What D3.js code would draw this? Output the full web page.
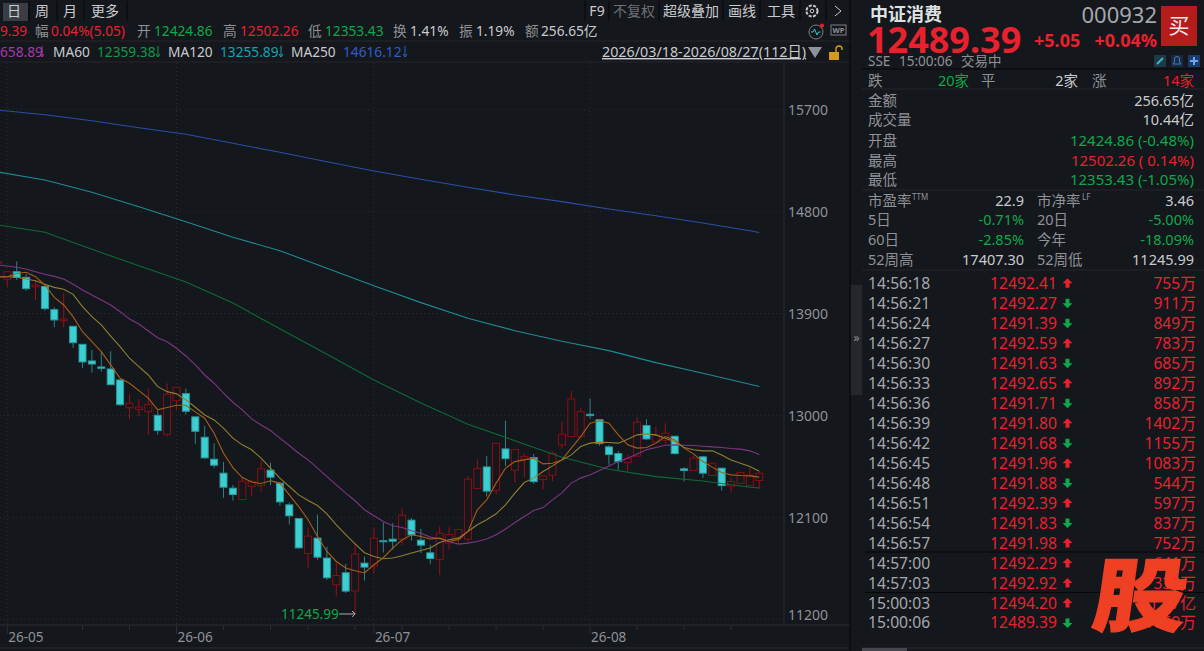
<!DOCTYPE html>
<html>
<head>
<meta charset="utf-8">
<script src="https://cdn.jsdelivr.net/npm/d3@7"></script>
<style>
html,body{margin:0;padding:0;background:#14171c;overflow:hidden}
svg{display:block}
text{font-family:"Noto Sans","Noto Sans CJK SC",sans-serif}
</style>
</head>
<body>
<script>
// trading days shown, first one is only half in view
var dates = ["04-30",
  "05-06","05-07","05-08","05-11","05-12","05-13","05-14","05-15","05-18","05-19","05-20","05-21","05-22","05-25","05-26","05-27","05-28","05-29",
  "06-01","06-02","06-03","06-04","06-05","06-08","06-09","06-10","06-11","06-12","06-15","06-16","06-17","06-18","06-22","06-23","06-24","06-25","06-26","06-29","06-30",
  "07-01","07-02","07-03","07-06","07-07","07-08","07-09","07-10","07-13","07-14","07-15","07-16","07-17","07-20","07-21","07-22","07-23","07-24","07-27","07-28","07-29","07-30","07-31",
  "08-03","08-04","08-05","08-06","08-07","08-10","08-11","08-12","08-13","08-14","08-17","08-18","08-19","08-20","08-21","08-24","08-25","08-26","08-27"];

var opens = [14345,14202,14269,14219,14136,14140,13934,13836,13787,13628,13481,
  13428,13410,13313,13068,13051,13033,13001,12830,13130,13192,
  12987,12807,12613,12490,12357,12257,12375,12380,12516,12401,
  12210,12089,11780,11916,11740,11504,11610,11448,11695,11669,
  11893,11907,11907,12075,11898,11786,11727,11872,11916,11907,
  12354,12545,12336,12704,12516,12613,12627,12433,12472,12740,
  12812,12812,13010,12962,12722,12663,12583,12640,12910,12766,
  12781,12816,12528,12513,12634,12469,12534,12375,12398,12380,12424.86];
var highs = [14380,14269,14360,14248,14196,14140,13955,14079,13787,13628,13578,
  13563,13566,13313,13187,13145,13240,13042,13284,13248,13236,
  12987,12907,12754,12589,12384,12454,12431,12601,12583,12413,
  12230,12089,12007,12124,11842,11701,11689,11866,11754,12007,
  12054,12048,12177,12093,11998,11857,12018,12013,11992,12460,
  12613,12642,12754,12954,12698,12660,12660,12466,12680,12942,
  13218,13063,13151,12962,12737,12684,12654,12984,12966,12901,
  12931,12816,12542,12648,12642,12578,12534,12454,12495,12536,12502.26];
var lows = [14300,14136,14196,14101,14019,13925,13778,13778,13595,13419,13377,
  13386,13266,13083,12966,12995,12830,12830,12812,13049,13007,
  12748,12619,12536,12272,12248,12257,12289,12325,12384,12201,
  12036,11824,11654,11725,11548,11401,11431,11245.99,11542,11601,
  11789,11813,11854,11895,11784,11689,11589,11819,11866,11883,
  12354,12283,12301,12554,12407,12454,12395,12349,12419,12710,
  12812,12812,12971,12733,12563,12519,12495,12640,12783,12766,
  12748,12654,12416,12513,12448,12469,12336,12318,12398,12380,12353.43];
var closes = [14355,14269,14219,14119,14151,13943,13843,13851,13642,13472,13454,
  13416,13271,13095,13107,13074,13098,12866,13187,13248,13037,
  12860,12625,12560,12366,12301,12419,12413,12528,12454,12236,
  12113,11830,11934,11748,11566,11586,11448,11775,11660,11916,
  11884,11889,12119,11945,11854,11736,11960,11948,11992,12437,
  12530,12331,12754,12618,12698,12636,12415,12466,12666,12834,
  13145,13033,12998,12751,12654,12592,12622,12940,12792,12822,
  12843,12663,12513,12622,12490,12578,12380,12416,12495,12472,12489.39];

var ma5 = [14222,14225,14253,14264,14225,14152,14043,13975,13872,13739,13651,
  13563,13446,13328,13284,13219,13152,13049,13069,13090,13090,
  13031,12975,12843,12666,12539,12451,12411,12398,12422,12402,
  12298,12195,12078,11931,11798,11710,11652,11628,11608,11681,
  11743,11828,11901,11946,11931,11908,11916,11886,11901,11975,
  12166,12254,12402,12534,12592,12607,12622,12572,12578,12607,
  12711,12813,12931,12952,12931,12828,12740,12711,12716,12755,
  12813,12784,12711,12660,12592,12543,12495,12475,12469,12466,12455];
var ma10 = [14225,14225,14220,14205,14190,14158,14131,14114,14069,13960,13872,
  13799,13701,13607,13505,13431,13357,13254,13210,13190,13137,
  13072,13004,12960,12887,12799,12740,12696,12622,12534,12446,
  12372,12298,12248,12204,12131,12034,11946,11866,11787,11754,
  11734,11740,11760,11784,11807,11828,11878,11901,11916,11975,
  12034,12078,12131,12210,12314,12407,12446,12504,12554,12607,
  12651,12725,12755,12764,12760,12755,12790,12828,12837,12828,
  12799,12769,12716,12696,12687,12687,12651,12607,12578,12548,12507];
var ma20 = [14328,14319,14308,14293,14269,14246,14228,14205,14158,14107,14063,
  14019,13975,13916,13852,13807,13746,13686,13651,13593,13525,
  13446,13357,13284,13196,13116,13049,12969,12916,12866,12799,
  12734,12666,12607,12534,12460,12387,12314,12246,12166,12113,
  12063,12025,12010,11981,11960,11925,11910,11886,11863,11872,
  11886,11908,11946,11996,12054,12107,12160,12186,12254,12316,
  12402,12446,12475,12513,12554,12592,12622,12660,12696,12716,
  12737,12740,12737,12734,12728,12722,12716,12707,12702,12687,12654];

var slowDates = ["04-30","05-12","05-19","05-26","06-02","06-09","06-16","06-24","07-01","07-08","07-15","07-22","07-29","08-05","08-12","08-19","08-26","08-27"];
var ma60 = [14682,14617,14467,14322,14178,13993,13766,13540,13313,13110,12922,12777,12630,12524,12459,12421,12365,12359.38];
var ma120 = [15150,15079,14971,14843,14711,14573,14455,14299,14146,13996,13858,13748,13655,13572,13466,13372,13275,13255.89];
var ma250 = [15697,15656,15603,15541,15483,15403,15324,15241,15159,15085,15015,14947,14888,14823,14764,14699,14631,14616.12];

var priceTicks = [15700,14800,13900,13000,12100,11200];
var monthTicks = ["05-06","06-01","07-01","08-03"];
var monthLabels = ["26-05","26-06","26-07","26-08"];
var weekTicks = ["05-18","05-25","06-08","06-15","06-22","06-29","07-06","07-13","07-20","07-27","08-10","08-17","08-24"];

var periodTabs = ["日","周","月","更多"];
var toolTabs = ["F9","不复权","超级叠加","画线","工具"];

var statLabels = ["金额","成交量","开盘","最高","最低"];
var statValues = ["256.65亿","10.44亿","12424.86 (-0.48%)","12502.26 ( 0.14%)","12353.43 (-1.05%)"];
var valLabels = ["市盈率","5日","60日","52周高"];
var valValues = ["22.9","-0.71%","-2.85%","17407.30"];
var valLabels2 = ["市净率","20日","今年","52周低"];
var valValues2 = ["3.46","-5.00%","-18.09%","11245.99"];

var tickTimes = ["14:56:18","14:56:21","14:56:24","14:56:27","14:56:30","14:56:33","14:56:36","14:56:39","14:56:42","14:56:45","14:56:48","14:56:51","14:56:54","14:56:57","14:57:00","14:57:03","15:00:03","15:00:06"];
var tickPrices = ["12492.41","12492.27","12491.39","12492.59","12491.63","12492.65","12491.71","12491.80","12491.68","12491.96","12491.88","12492.39","12491.83","12491.98","12492.29","12492.92","12494.20","12489.39"];
var tickDirs = [1,-1,-1,1,-1,1,-1,1,-1,1,-1,1,-1,1,1,1,1,-1];
var tickVols = ["755万","911万","849万","783万","685万","892万","858万","1402万","1155万","1083万","544万","597万","837万","752万","641万","338万","1.07亿","1669万"];

var RED = "#e8212e", GREEN = "#0fa84a", GREY = "#8f9296", WHITE = "#c9cbce";
var UP_LINE = "#8c0e14", UP_WICK = "#9c0f14", DOWN_FILL = "#3ccfd2", DOWN_WICK = "#2f7f85";
var BG = "#14171c", SEP = "#2a2d33";

var svg = d3.select("body").append("svg").attr("width", 1204).attr("height", 651);
svg.append("rect").attr("width", 1204).attr("height", 651).attr("fill", BG);

function txt(x, y, s, color, size, anchor, weight) {
  return svg.append("text").attr("x", x).attr("y", y).attr("dy", "0.35em")
    .attr("fill", color).attr("font-size", size)
    .attr("text-anchor", anchor || "start")
    .attr("font-weight", weight || 400).text(s);
}
function hline(x1, x2, y, color) {
  svg.append("line").attr("x1", x1).attr("x2", x2).attr("y1", y).attr("y2", y).attr("stroke", color);
}
function vline(x, y1, y2, color) {
  svg.append("line").attr("x1", x).attr("x2", x).attr("y1", y1).attr("y2", y2).attr("stroke", color);
}

// scales
var x = d3.scalePoint().domain(dates).range([-2.1, 759.3]);
var y = d3.scaleLinear().domain([11200, 15700]).range([619.2, 109.7]);

// grid
var grid = svg.append("g").attr("stroke", "#2b2e34").attr("stroke-dasharray", "1,3");
grid.selectAll(".gh").data(priceTicks).enter().append("line")
  .attr("x1", 0).attr("x2", 784).attr("y1", function(d) { return y(d); }).attr("y2", function(d) { return y(d); });
grid.selectAll(".gv").data(monthTicks).enter().append("line")
  .attr("x1", function(d) { return x(d); }).attr("x2", function(d) { return x(d); })
  .attr("y1", 63).attr("y2", 625);

// candles
var candles = dates.map(function(d, i) {
  return {date: d, o: opens[i], h: highs[i], l: lows[i], c: closes[i], up: closes[i] >= opens[i]};
});
var cg = svg.append("g").selectAll("g").data(candles).enter().append("g");
cg.append("line")
  .attr("x1", function(d) { return x(d.date); }).attr("x2", function(d) { return x(d.date); })
  .attr("y1", function(d) { return y(d.h); })
  .attr("y2", function(d) { return y(Math.max(d.o, d.c)); })
  .attr("stroke", function(d) { return d.up ? UP_WICK : DOWN_WICK; });
cg.append("line")
  .attr("x1", function(d) { return x(d.date); }).attr("x2", function(d) { return x(d.date); })
  .attr("y1", function(d) { return y(Math.min(d.o, d.c)); })
  .attr("y2", function(d) { return y(d.l); })
  .attr("stroke", function(d) { return d.up ? UP_WICK : DOWN_WICK; });
cg.append("rect")
  .attr("x", function(d) { return x(d.date) - 3.5; })
  .attr("width", 7)
  .attr("y", function(d) { return y(Math.max(d.o, d.c)); })
  .attr("height", function(d) { return Math.max(1, Math.abs(y(d.o) - y(d.c))); })
  .attr("fill", function(d) { return d.up ? BG : DOWN_FILL; })
  .attr("stroke", function(d) { return d.up ? UP_LINE : "#2c9a9e"; })
  .attr("stroke-width", 1);

// moving averages
var line = d3.line().x(function(d) { return x(d[0]); }).y(function(d) { return y(d[1]); });
function drawMa(days, vals, color) {
  svg.append("path").attr("d", line(d3.zip(days, vals)))
    .attr("fill", "none").attr("stroke", color).attr("stroke-width", 1.1);
}
drawMa(slowDates, ma250, "#2a4fa8");
drawMa(slowDates, ma120, "#1f8a94");
drawMa(slowDates, ma60, "#0f6a38");
drawMa(dates, ma20, "#7e3684");
drawMa(dates, ma10, "#8f8030");
drawMa(dates, ma5, "#a85e18");

// lowest point note
txt(281, y(11245.99), "11245.99", GREEN, 13.5);
var lx = x("06-29");
svg.append("path").attr("d", d3.line()([[lx - 16, y(11245.99)], [lx, y(11245.99)], [lx - 3, y(11245.99) - 3], [lx, y(11245.99)], [lx - 3, y(11245.99) + 3]]))
  .attr("fill", "none").attr("stroke", "#a9abae");

// price axis
vline(784, 63, 625, SEP);
priceTicks.forEach(function(p) {
  txt(788, p == 11200 ? 615 : y(p) + 0.5, d3.format("d")(p), GREY, 14);
});

// date axis
hline(0, 850, 625, SEP);
hline(0, 850, 648, SEP);
weekTicks.forEach(function(d) { vline(x(d), 625, 630, SEP); });
monthTicks.forEach(function(d, i) {
  vline(x(d), 625, 634, SEP);
  txt(x(d) + 1, 637, monthLabels[i], GREY, 13.5);
});

// top bars
hline(0, 850, 41, "#24272c");
hline(0, 850, 62, "#24272c");
vline(850, 0, 651, "#050608");
svg.append("rect").attr("x", 3).attr("y", 3).attr("width", 25).attr("height", 18).attr("fill", "#3a3d44");
var tabX = [14, 42, 70, 105];
periodTabs.forEach(function(t, i) {
  txt(tabX[i], 11, t, WHITE, 14, "middle");
});
[29, 57, 84, 127].forEach(function(v) { vline(v, 1, 21, "#050608"); });
var toolX = [597, 634, 691, 742, 781];
toolTabs.forEach(function(t, i) {
  txt(toolX[i], 11, t, i == 1 ? "#6f7276" : WHITE, 14, "middle");
});
[585, 609, 659, 723, 760, 800, 826].forEach(function(v) { vline(v, 1, 21, "#050608"); });
svg.append("circle").attr("cx", 812).attr("cy", 11).attr("r", 5.5).attr("fill", "none").attr("stroke", WHITE).attr("stroke-width", 2).attr("stroke-dasharray", "3,1.4");
svg.append("circle").attr("cx", 812).attr("cy", 11).attr("r", 1.8).attr("fill", "none").attr("stroke", WHITE);
svg.append("path").attr("d", "M835 6L841 11L835 16").attr("fill", "none").attr("stroke", WHITE);

// quote row
var quoteRow = [[0,"9.39",RED],[35,"幅",GREY],[51,"0.04%(5.05)",RED],[137,"开",GREY],[154,"12424.86",GREEN],
  [223,"高",GREY],[240,"12502.26",RED],[308,"低",GREY],[325,"12353.43",GREEN],
  [393,"换",GREY],[410,"1.41%",WHITE],[459,"振",GREY],[476,"1.19%",WHITE],[525,"额",GREY],[541,"256.65亿",WHITE]];
quoteRow.forEach(function(r) { txt(r[0], 31, r[1], r[2], 13.7); });
svg.append("circle").attr("cx", 816).attr("cy", 32).attr("r", 7).attr("fill", "none").attr("stroke", "#7d8186");
svg.append("path").attr("d", "M811 32h2l1.5-3l2.5 6l1.5-3h2").attr("fill", "none").attr("stroke", "#35c5d0");
svg.append("circle").attr("cx", 822).attr("cy", 25.5).attr("r", 2).attr("fill", "#ee1c25");
svg.append("rect").attr("x", 831).attr("y", 25).attr("width", 15).attr("height", 10).attr("fill", "none").attr("stroke", "#7d8186");
txt(838.5, 30, "WP", "#8f9296", 7.5, "middle", 700);

// ma legend row, arrows drawn narrow like the terminal's own glyph
var maRow = [[0,"658.89","#a83aa8",40],[53,"MA60",WHITE],[97,"12359.38","#0d9a4a",156],[168,"MA120",WHITE],
  [220,"13255.89","#12a5b5",279],[291,"MA250",WHITE],[343,"14616.12","#2f5fc8",403]];
maRow.forEach(function(r) {
  txt(r[0], 52, r[1], r[2], 13.7);
  if (r[3]) {
    svg.append("path").attr("d", "M" + (r[3] + 2) + " 46V57M" + r[3] + " 54L" + (r[3] + 2) + " 57L" + (r[3] + 4) + " 54")
      .attr("fill", "none").attr("stroke", r[2]);
  }
});
txt(602, 52, "2026/03/18-2026/08/27(112日)", WHITE, 14.3).attr("text-decoration", "underline");
svg.append("path").attr("d", "M808 47H822L815 58Z").attr("fill", "#8f9296");
svg.append("rect").attr("x", 829).attr("y", 52).attr("width", 10).attr("height", 8).attr("fill", "#d49a1a");
svg.append("path").attr("d", "M836 52V49a3 3 0 0 1 6 0v1").attr("fill", "none").attr("stroke", "#d49a1a").attr("stroke-width", 1.4);

// side tab
svg.append("rect").attr("x", 851).attr("y", 285).attr("width", 11).attr("height", 110).attr("fill", "#24272c");
txt(856.5, 338, "»", GREY, 12, "middle");

// right panel header
txt(870, 15, "中证消费", "#dfe0e2", 18, "start", 700);
txt(1157, 15, "000932", "#a5a8ac", 22, "end");
svg.append("rect").attr("x", 1161).attr("y", 6).attr("width", 36).attr("height", 40).attr("fill", "#b51d1d");
txt(1179, 26, "买", "#f2e6e6", 21, "middle");
txt(867, 40, "12489.39", RED, 36, "start", 700);
txt(1034, 41, "+5.05", RED, 18, "start", 700);
txt(1157, 41, "+0.04%", RED, 18, "end", 700);
txt(868, 61, "SSE", GREY, 13.5);
txt(899, 61, "15:00:06", GREY, 13.5);
txt(961, 61, "交易中", GREY, 13.5);
svg.append("rect").attr("x", 1154).attr("y", 55).attr("width", 12).attr("height", 12).attr("fill", "#1f3a44");
svg.append("path").attr("d", "M1157 64L1163 58").attr("stroke", "#38b8d0").attr("stroke-width", 2);
svg.append("rect").attr("x", 1171).attr("y", 55).attr("width", 12).attr("height", 12).attr("fill", "#1a2b40");
svg.append("path").attr("d", "M1173 64h8l-1.5-2v-3a2.5 2.5 0 0 0-5 0v3z").attr("fill", "none").attr("stroke", "#3a7fc8");
svg.append("rect").attr("x", 1188).attr("y", 55).attr("width", 12).attr("height", 12).attr("fill", "#1c3a6a");
svg.append("path").attr("d", "M1194 57v8M1190 61h8").attr("stroke", "#6aa8f0").attr("stroke-width", 2);

hline(862, 1204, 69, "#050608");
hline(862, 1204, 89, "#24272c");
hline(862, 1204, 190, "#24272c");
hline(862, 1204, 270, "#24272c");

// breadth row
txt(868, 81, "跌", GREY, 14.5);
txt(938, 81, "20家", GREEN, 14.5);
txt(981, 81, "平", GREY, 14.5);
txt(1078, 81, "2家", WHITE, 14.5, "end");
txt(1092, 81, "涨", GREY, 14.5);
txt(1194, 81, "14家", RED, 14.5, "end");

// stats
var statY = [101, 120, 141, 161, 180];
var statColors = [WHITE, WHITE, GREEN, RED, GREEN];
statLabels.forEach(function(s, i) {
  txt(868, statY[i], s, GREY, 14.5);
  txt(1194, statY[i], statValues[i], statColors[i], i < 2 ? 14.5 : 15, "end");
});
var valY = [201, 220, 240, 260];
var valColors = [WHITE, GREEN, GREEN, WHITE];
valLabels.forEach(function(s, i) {
  txt(868, valY[i], s, GREY, 14.5);
  txt(1024, valY[i], valValues[i], valColors[i], 14.5, "end");
  txt(1037, valY[i], valLabels2[i], GREY, 14.5);
  txt(1194, valY[i], valValues2[i], valColors[i], 14.5, "end");
});
txt(912, 197, "TTM", GREY, 8);
txt(1082, 197, "LF", GREY, 8);

// tick feed
var rowY = d3.scaleLinear().domain([0, 17]).range([283.3, 623]);
tickTimes.forEach(function(t, i) {
  var ry = rowY(i);
  txt(868, ry, t, "#a5a8ac", 15.7);
  txt(990, ry, tickPrices[i], RED, 15.7);
  var c = tickDirs[i] > 0 ? RED : GREEN;
  var dy = tickDirs[i] > 0 ? 1 : -1;
  svg.append("path")
    .attr("d", "M1067.5 " + (ry - 5 * dy) + "L1072.5 " + ry + "H1069.5V" + (ry + 4.5 * dy) + "H1065.5V" + ry + "H1062.5Z")
    .attr("fill", c);
  txt(1196, ry, tickVols[i], RED, 15.7, "end");
});
hline(865, 1204, 552, "#050608");
hline(865, 1204, 592.5, "#050608");
hline(862, 1204, 648, SEP);
svg.append("rect").attr("x", 862).attr("y", 648).attr("width", 45).attr("height", 3).attr("fill", "#44474d");

// watermark
svg.append("text").attr("transform", "translate(1090,625) skewX(-8) scale(1.17,1)")
  .attr("fill", "#ef4023").attr("stroke", "#ef4023").attr("stroke-width", 1.2)
  .attr("font-size", 80).attr("font-weight", 900)
  .style("font-family", '"Noto Sans CJK SC"').text("股");
</script>
</body>
</html>
